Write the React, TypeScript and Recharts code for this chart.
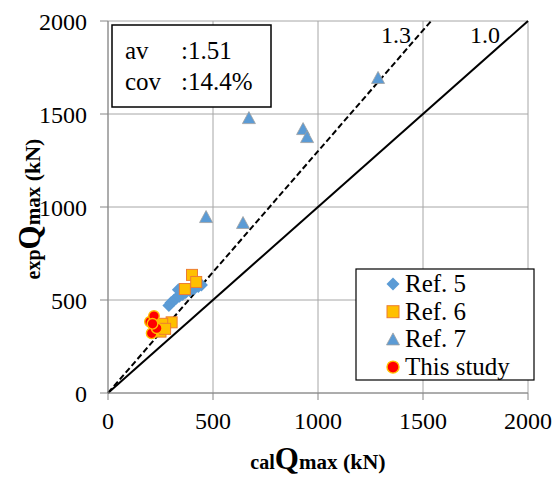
import React from 'react';
import { ScatterChart, Scatter, XAxis, YAxis, CartesianGrid, ReferenceLine, ReferenceDot } from 'recharts';

const xTicks = [0, 500, 1000, 1500, 2000];
const yTicks = [0, 500, 1000, 1500, 2000];
const AXIS_MAX = 2000;

const ref5 = [
  { x: 290, y: 470 }, { x: 300, y: 485 }, { x: 315, y: 500 }, { x: 325, y: 510 },
  { x: 340, y: 520 }, { x: 355, y: 530 }, { x: 370, y: 540 }, { x: 390, y: 550 },
  { x: 410, y: 560 }, { x: 430, y: 572 }, { x: 335, y: 555 }, { x: 445, y: 580 },
];
const ref6 = [
  { x: 400, y: 635 }, { x: 420, y: 597 }, { x: 366, y: 559 },
  { x: 303, y: 380 }, { x: 258, y: 372 }, { x: 250, y: 330 }, { x: 272, y: 345 },
];
const ref7 = [
  { x: 1286, y: 1694 }, { x: 671, y: 1478 }, { x: 929, y: 1419 }, { x: 948, y: 1376 },
  { x: 467, y: 946 }, { x: 643, y: 914 },
];
const thisStudy = [
  { x: 200, y: 383 }, { x: 219, y: 414 }, { x: 208, y: 321 }, { x: 232, y: 348 }, { x: 212, y: 372 },
];

const ratios = [1.0, 1.3];
const ratioLabels = ['1.0', '1.3'];
const statNames = ['av', 'cov'];
const statValues = [':1.51', ':14.4%'];
const seriesNames = ['Ref. 5', 'Ref. 6', 'Ref. 7', 'This study'];

const FONT = 'Liberation Serif, Times New Roman, DejaVu Serif, serif';
const BLUE = '#5B9BD5';
const GOLD = '#FFC000';
const ORANGE = '#ED7D31';
const RED = '#FF0000';

const diamondPath = (cx: number, cy: number, s: number) =>
  `${cx},${cy - s} ${cx + s},${cy} ${cx},${cy + s} ${cx - s},${cy}`;
const trianglePath = (cx: number, cy: number, s: number) =>
  `${cx},${cy - s} ${cx + s},${cy + s * 0.85} ${cx - s},${cy + s * 0.85}`;

const DiamondShape = (p: any) => <polygon points={diamondPath(p.cx, p.cy, 6.5)} fill={BLUE} />;
const SquareShape = (p: any) => (
  <rect x={p.cx - 5.5} y={p.cy - 5.5} width={11} height={11} fill={GOLD} stroke={ORANGE} strokeWidth={1} />
);
const TriangleShape = (p: any) => (
  <polygon points={trianglePath(p.cx, p.cy, 6.5)} fill={BLUE} stroke="#A0A0A0" strokeWidth={0.8} />
);
const CircleShape = (p: any) => <circle cx={p.cx} cy={p.cy} r={5.3} fill={RED} stroke={GOLD} strokeWidth={1.4} />;

const legendMarkers = [
  (cx: number, cy: number) => <polygon points={diamondPath(cx, cy, 6.5)} fill={BLUE} />,
  (cx: number, cy: number) => <rect x={cx - 6} y={cy - 6} width={12} height={12} fill={GOLD} stroke={ORANGE} strokeWidth={1} />,
  (cx: number, cy: number) => <polygon points={trianglePath(cx, cy, 6.5)} fill={BLUE} stroke="#A0A0A0" strokeWidth={0.8} />,
  (cx: number, cy: number) => <circle cx={cx} cy={cy} r={6} fill={RED} stroke={GOLD} strokeWidth={1.4} />,
];

const YLabel = () => (
  <text transform="rotate(-90, 40, 209)" x={40} y={209} textAnchor="middle" style={{ fontFamily: FONT }} fontWeight="bold" fill="#000">
    <tspan fontSize={20}>exp</tspan>
    <tspan fontSize={31}>Q</tspan>
    <tspan fontSize={21}>max</tspan>
    <tspan fontSize={22}> (kN)</tspan>
  </text>
);
const XLabel = () => (
  <text x={318} y={469} textAnchor="middle" style={{ fontFamily: FONT }} fontWeight="bold" fill="#000">
    <tspan fontSize={20}>cal</tspan>
    <tspan fontSize={31}>Q</tspan>
    <tspan fontSize={21}>max</tspan>
    <tspan fontSize={22}> (kN)</tspan>
  </text>
);

const txt = { fontFamily: FONT } as const;

const StatsBox = () => (
  <g>
    <rect x={112} y={25} width={159} height={82} fill="#fff" stroke="#000" strokeWidth={1.5} />
    {statNames.map((n, i) => (
      <g key={n}>
        <text x={125} y={59 + i * 31} fontSize={25} style={txt} fill="#000">{n}</text>
        <text x={181} y={59 + i * 31} fontSize={25} style={txt} fill="#000">{statValues[i]}</text>
      </g>
    ))}
  </g>
);

const LegendBox = () => (
  <g>
    <rect x={356} y={269} width={178} height={111} fill="#fff" stroke="#000" strokeWidth={1.2} />
    {seriesNames.map((n, i) => (
      <g key={n}>
        {legendMarkers[i](393, 284 + i * 27.7)}
        <text x={405} y={292 + i * 27.5} fontSize={25} style={txt} fill="#000">{n}</text>
      </g>
    ))}
  </g>
);

const tickStyle = { fontSize: 24, fill: '#000', fontFamily: FONT, style: { fontFamily: FONT } };

export default function App() {
  return (
    <div style={{ position: 'absolute', left: 0, top: 0, width: 554, height: 477, background: '#fff', fontFamily: FONT }}>
      <ScatterChart width={554} height={477} margin={{ top: 21, right: 26, left: 0, bottom: 0 }} style={{ fontFamily: FONT }}>
        <CartesianGrid stroke="#A6A6A6" strokeWidth={1} />
        <XAxis
          type="number"
          dataKey="x"
          domain={[0, AXIS_MAX]}
          ticks={xTicks}
          interval={0}
          height={84}
          tickSize={7}
          tickMargin={12}
          stroke="#868686"
          tick={tickStyle}
          label={<XLabel />}
        />
        <YAxis
          type="number"
          dataKey="y"
          domain={[0, AXIS_MAX]}
          ticks={yTicks}
          interval={0}
          width={108}
          tickSize={8}
          tickMargin={13}
          stroke="#868686"
          tick={tickStyle}
          label={<YLabel />}
        />
        {ratios.map((r) => (
          <ReferenceLine
            key={r}
            segment={[{ x: 0, y: 0 }, { x: AXIS_MAX / r, y: AXIS_MAX }]}
            stroke="#000"
            strokeWidth={2}
            strokeDasharray={r === 1 ? undefined : '6 3'}
          />
        ))}
        <ReferenceDot
          x={1795}
          y={1925}
          r={0}
          stroke="none"
          fill="none"
          label={{ value: ratioLabels[0], position: 'center', fontSize: 24, fill: '#000', style: txt }}
        />
        <ReferenceDot
          x={1371}
          y={1925}
          r={0}
          stroke="none"
          fill="none"
          label={{ value: ratioLabels[1], position: 'center', fontSize: 24, fill: '#000', style: txt }}
        />
        <Scatter name={seriesNames[0]} data={ref5} shape={DiamondShape} isAnimationActive={false} />
        <Scatter name={seriesNames[1]} data={ref6} shape={SquareShape} isAnimationActive={false} />
        <Scatter name={seriesNames[2]} data={ref7} shape={TriangleShape} isAnimationActive={false} />
        <Scatter name={seriesNames[3]} data={thisStudy} shape={CircleShape} isAnimationActive={false} />
        <StatsBox />
        <LegendBox />
      </ScatterChart>
    </div>
  );
}
